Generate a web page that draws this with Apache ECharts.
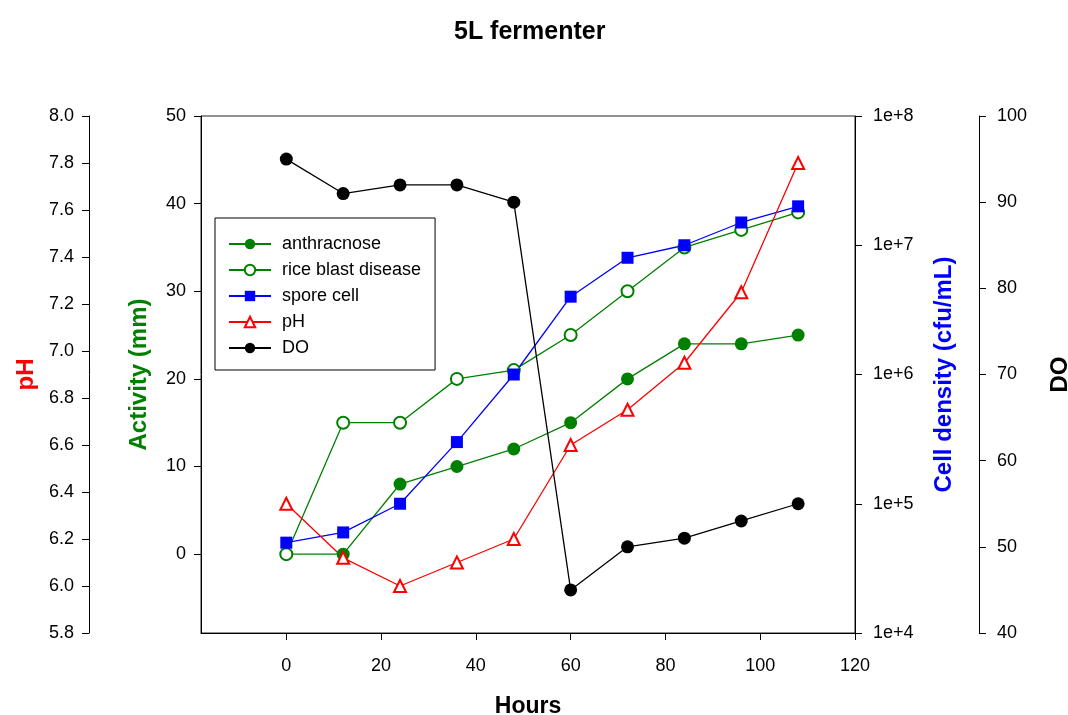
<!DOCTYPE html>
<html>
<head>
<meta charset="utf-8">
<script src="https://cdn.jsdelivr.net/npm/echarts@6/dist/echarts.min.js"></script>
<style>
html,body{margin:0;padding:0;background:#fff;overflow:hidden;width:1068px;height:715px;}
#chart{position:absolute;left:0;top:0;width:1068px;height:715px;}
</style>
</head>
<body>
<div id="chart"></div>
<script>
// ---- data ----
const hours = [0, 12, 24, 36, 48, 60, 72, 84, 96, 108];
const anthracnose = [0, 0, 8, 10, 12, 15, 20, 24, 24, 25];
const riceBlast = [0, 15, 15, 20, 21, 25, 30, 35, 37, 39];
const sporeCell = [5e4, 6e4, 1e5, 3e5, 1e6, 4e6, 8e6, 1e7, 1.5e7, 2e7];
const pH = [6.35, 6.12, 6.0, 6.1, 6.2, 6.6, 6.75, 6.95, 7.25, 7.8];
const DO = [95, 91, 92, 92, 90, 45, 50, 51, 53, 55];
const xTicks = [0, 20, 40, 60, 80, 100, 120];
const activityTicks = [0, 10, 20, 30, 40, 50];

const FONT = "'Liberation Sans', Arial, sans-serif";
const pairs = (ys) => hours.map((h, i) => [h, ys[i]]);

const chart = echarts.init(document.getElementById('chart'), null, {renderer: 'canvas', width: 1068, height: 715});

const tickLabel = {color: '#000', fontSize: 18, fontFamily: FONT};
const axisLine = {show: true, onZero: false, lineStyle: {color: '#000', width: 1}};
const axisTick = {show: true, inside: false, length: 7, lineStyle: {color: '#000', width: 1}};
const nameStyle = (c, s) => ({color: c, fontSize: s || 24, fontWeight: 'bold', fontFamily: FONT});

const option = {
  animation: false,
  backgroundColor: '#fff',
  title: {
    text: '5L fermenter',
    left: 449, top: 15,
    textStyle: {fontSize: 25, fontWeight: 'bold', color: '#000', fontFamily: FONT}
  },
  legend: {
    orient: 'vertical',
    left: 215, top: 218,
    padding: [17, 14, 13, 13],
    itemGap: 8,
    itemWidth: 42, itemHeight: 13,
    borderColor: '#000', borderWidth: 1,
    backgroundColor: '#fff',
    textStyle: {fontSize: 18, color: '#000', fontFamily: FONT, padding: [0, 0, 0, 6]},
    data: ['anthracnose', 'rice blast disease', 'spore cell', 'pH', 'DO']
  },
  grid: {
    left: 201, width: 654, top: 116, height: 517,
    outerBoundsMode: 'none', containLabel: false,
    show: true, borderColor: '#222', borderWidth: 1, backgroundColor: 'transparent'
  },
  xAxis: {
    type: 'value', min: -18, max: 120,
    name: 'Hours', nameLocation: 'middle', nameGap: 62,
    nameTextStyle: nameStyle('#000', 23),
    axisLine: axisLine,
    axisTick: Object.assign({}, axisTick, {customValues: xTicks}),
    axisLabel: Object.assign({}, tickLabel, {margin: 24, customValues: xTicks}),
    splitLine: {show: false}
  },
  yAxis: [
    {
      type: 'value', position: 'left', offset: 0, min: -9, max: 50,
      name: 'Activity (mm)', nameLocation: 'middle', nameGap: 50, nameRotate: 90,
      nameTextStyle: nameStyle('#008000'),
      axisLine: axisLine,
      axisTick: Object.assign({}, axisTick, {customValues: activityTicks}),
      axisLabel: Object.assign({}, tickLabel, {margin: 15, customValues: activityTicks}),
      splitLine: {show: false}
    },
    {
      type: 'value', position: 'left', offset: 112, min: 5.8, max: 8.0, interval: 0.2,
      name: 'pH', nameLocation: 'middle', nameGap: 41, nameRotate: 90,
      nameTextStyle: nameStyle('#ff0000'),
      axisLine: axisLine, axisTick: axisTick,
      axisLabel: Object.assign({}, tickLabel, {margin: 15, formatter: v => v.toFixed(1)}),
      splitLine: {show: false}
    },
    {
      type: 'log', logBase: 10, position: 'right', offset: 0, min: 1e4, max: 1e8,
      name: 'Cell density (cfu/mL)', nameLocation: 'middle', nameGap: 77, nameRotate: 90,
      nameTextStyle: nameStyle('#0000ff'),
      axisLine: axisLine, axisTick: axisTick,
      axisLabel: Object.assign({}, tickLabel, {margin: 18, formatter: v => '1e+' + Math.round(Math.log10(v))}),
      minorTick: {show: false},
      splitLine: {show: false}
    },
    {
      type: 'value', position: 'right', offset: 124, min: 40, max: 100, interval: 10,
      name: 'DO', nameLocation: 'middle', nameGap: 69, nameRotate: 90,
      nameTextStyle: nameStyle('#000'),
      axisLine: axisLine, axisTick: axisTick,
      axisLabel: Object.assign({}, tickLabel, {margin: 18}),
      splitLine: {show: false}
    }
  ],
  series: [
    {
      name: 'anthracnose', type: 'line', yAxisIndex: 0, data: pairs(anthracnose),
      symbol: 'circle', symbolSize: 13,
      itemStyle: {color: '#008000'}, lineStyle: {color: '#008000', width: 1.3}
    },
    {
      name: 'rice blast disease', type: 'line', yAxisIndex: 0, data: pairs(riceBlast),
      symbol: 'emptyCircle', symbolSize: 12,
      itemStyle: {color: '#008000', borderWidth: 1.3}, lineStyle: {color: '#008000', width: 1.3}
    },
    {
      name: 'spore cell', type: 'line', yAxisIndex: 2, data: pairs(sporeCell),
      symbol: 'rect', symbolSize: 12,
      itemStyle: {color: '#0000ff'}, lineStyle: {color: '#0000ff', width: 1.3}
    },
    {
      name: 'pH', type: 'line', yAxisIndex: 1, data: pairs(pH),
      symbol: 'emptyTriangle', symbolSize: 12,
      itemStyle: {color: '#ff0000', borderWidth: 1.3}, lineStyle: {color: '#ff0000', width: 1.3}
    },
    {
      name: 'DO', type: 'line', yAxisIndex: 3, data: pairs(DO),
      symbol: 'circle', symbolSize: 13,
      itemStyle: {color: '#000'}, lineStyle: {color: '#000', width: 1.3}
    }
  ]
};
chart.setOption(option);
</script>
</body>
</html>
